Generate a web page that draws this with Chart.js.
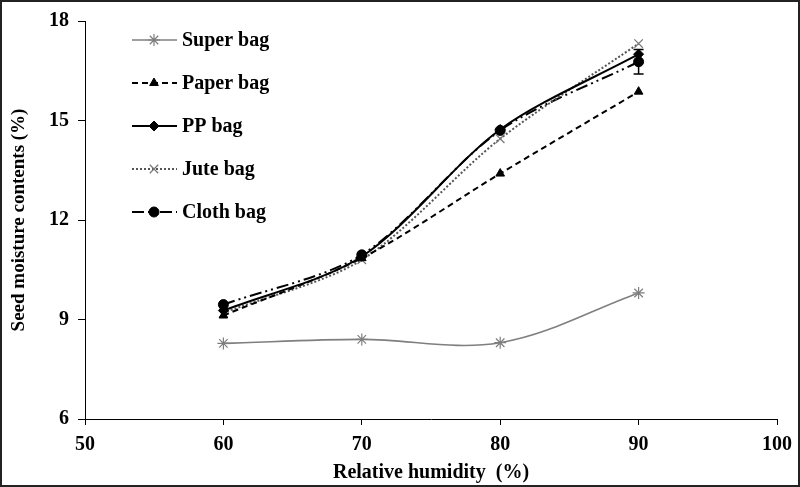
<!DOCTYPE html>
<html>
<head>
<meta charset="utf-8">
<script src="https://cdn.jsdelivr.net/npm/chart.js@4/dist/chart.umd.min.js"></script>
<style>
  html, body { margin: 0; padding: 0; background: #fff; }
  #wrap { width: 800px; height: 487px; position: relative; }
</style>
</head>
<body>
<div id="wrap"><canvas id="chart"></canvas></div>
<script>
// datos
const humidity = [60, 70, 80, 90];
const superBag = [8.28, 8.40, 8.30, 9.80];
const paperBag = [9.12, 10.85, 13.40, 15.87];
const ppBag = [9.27, 10.90, 14.73, 17.00];
const juteBag = [9.20, 10.80, 14.45, 17.32];
const clothBag = [9.45, 10.95, 14.70, 16.77];
const clothErr = [0, 0, 0, 0.37];

const xTicks = [50, 60, 70, 80, 90, 100];
const yTicks = [6, 9, 12, 15, 18];

const serif = '"Liberation Serif", "Times New Roman", serif';

function pts(values) {
    return humidity.map(function (h, i) { return { x: h, y: values[i] }; });
}

// fondo blanco y marco
const frame = {
    id: 'frame',
    beforeDraw: function (chart) {
        const c = chart.ctx;
        c.save();
        c.fillStyle = '#fff';
        c.fillRect(0, 0, chart.width, chart.height);
        c.restore();
    },
    afterDraw: function (chart) {
        const c = chart.ctx;
        c.save();
        c.strokeStyle = '#222';
        c.lineWidth = 2;
        c.strokeRect(1, 1, chart.width - 2, chart.height - 2);
        c.restore();
    }
};

// barra de error (solo Cloth bag)
const errorBars = {
    id: 'errorBars',
    afterDatasetsDraw: function (chart) {
        const ds = chart.data.datasets[4];
        const xs = chart.scales.x, ys = chart.scales.y;
        const c = chart.ctx;
        c.save();
        c.strokeStyle = '#000';
        c.lineWidth = 1.5;
        ds.errors.forEach(function (e, i) {
            if (!e) return;
            const px = xs.getPixelForValue(humidity[i]);
            const lo = ys.getPixelForValue(ds.values[i] - e);
            const hi = ys.getPixelForValue(ds.values[i] + e);
            c.beginPath();
            c.moveTo(px, lo); c.lineTo(px, hi);
            c.moveTo(px - 5, lo); c.lineTo(px + 5, lo);
            c.moveTo(px - 5, hi); c.lineTo(px + 5, hi);
            c.stroke();
        });
        c.restore();
    }
};

// leyenda dentro del area
const innerLegend = {
    id: 'innerLegend',
    afterDraw: function (chart) {
        const c = chart.ctx;
        const area = chart.chartArea;
        const x0 = area.left + 47;
        const y0 = area.top + 19;
        c.save();
        chart.data.datasets.forEach(function (ds, i) {
            const y = y0 + i * 43;
            c.strokeStyle = ds.borderColor;
            c.lineWidth = ds.borderWidth;
            c.setLineDash(ds.borderDash || []);
            c.beginPath();
            c.moveTo(x0, y);
            c.lineTo(x0 + 45, y);
            c.stroke();
            c.setLineDash([]);
            c.fillStyle = ds.pointBackgroundColor;
            c.strokeStyle = ds.pointBorderColor;
            c.lineWidth = ds.pointBorderWidth;
            Chart.helpers.drawPoint(c, {
                pointStyle: ds.pointStyle,
                radius: ds.pointRadius,
                borderWidth: ds.pointBorderWidth,
                rotation: 0
            }, x0 + 22, y);
            c.fillStyle = '#000';
            c.font = 'bold 20px ' + serif;
            c.textBaseline = 'middle';
            c.textAlign = 'left';
            c.fillText(ds.label, x0 + 50, y + 1);
        });
        c.restore();
    }
};

const ctx = document.getElementById('chart');

new Chart(ctx, {
    type: 'scatter',
    data: {
        datasets: [{
            label: 'Super bag',
            data: pts(superBag),
            showLine: true,
            tension: 0.35,
            borderColor: '#7f7f7f',
            borderWidth: 1.6,
            pointStyle: 'star',
            pointRadius: 6,
            pointBorderWidth: 1.2,
            pointBackgroundColor: '#7f7f7f',
            pointBorderColor: '#7f7f7f'
        }, {
            label: 'Paper bag',
            data: pts(paperBag),
            showLine: true,
            tension: 0.3,
            borderColor: '#000',
            borderWidth: 2,
            borderDash: [6, 4],
            pointStyle: 'triangle',
            pointRadius: 5,
            pointBorderWidth: 1,
            pointBackgroundColor: '#000',
            pointBorderColor: '#000'
        }, {
            label: 'PP bag',
            data: pts(ppBag),
            showLine: true,
            tension: 0.3,
            borderColor: '#000',
            borderWidth: 2,
            pointStyle: 'rectRot',
            pointRadius: 5,
            pointBorderWidth: 1,
            pointBackgroundColor: '#000',
            pointBorderColor: '#000'
        }, {
            label: 'Jute bag',
            data: pts(juteBag),
            showLine: true,
            tension: 0.3,
            borderColor: '#555',
            borderWidth: 2,
            borderDash: [2, 2],
            pointStyle: 'crossRot',
            pointRadius: 6,
            pointBorderWidth: 1.2,
            pointBackgroundColor: '#777',
            pointBorderColor: '#777'
        }, {
            label: 'Cloth bag',
            data: pts(clothBag),
            values: clothBag,
            errors: clothErr,
            showLine: true,
            tension: 0.3,
            borderColor: '#000',
            borderWidth: 2,
            borderDash: [12, 4, 2, 4, 2, 4],
            pointStyle: 'circle',
            pointRadius: 5,
            pointBorderWidth: 1,
            pointBackgroundColor: '#000',
            pointBorderColor: '#000'
        }]
    },
    options: {
        responsive: true,
        maintainAspectRatio: false,
        animation: false,
        layout: { padding: { left: 4, top: 19, right: 23, bottom: 2 } },
        plugins: {
            legend: { display: false },
            tooltip: { enabled: false }
        },
        scales: {
            x: {
                type: 'linear',
                min: 50,
                max: 100,
                afterBuildTicks: function (s) { s.ticks = xTicks.map(function (v) { return { value: v }; }); },
                afterFit: function (s) { s.height = 66; },
                ticks: { color: '#000', padding: 8, font: { family: serif, size: 20, weight: 'bold' } },
                grid: { drawOnChartArea: false, drawTicks: true, tickLength: 6, color: '#000' },
                border: { color: '#000', width: 1 },
                title: {
                    display: true,
                    text: 'Relative humidity  (%)',
                    color: '#000',
                    padding: { top: 2, bottom: 0 },
                    font: { family: serif, size: 20, weight: 'bold' }
                }
            },
            y: {
                min: 6,
                max: 18,
                afterBuildTicks: function (s) { s.ticks = yTicks.map(function (v) { return { value: v }; }); },
                afterFit: function (s) { s.width = 81; },
                ticks: { color: '#000', padding: 9, font: { family: serif, size: 20, weight: 'bold' } },
                grid: { drawOnChartArea: false, drawTicks: true, tickLength: 7, color: '#000' },
                border: { color: '#000', width: 1 },
                title: {
                    display: true,
                    text: 'Seed moisture contents (%)',
                    color: '#000',
                    padding: { top: 4, bottom: 2 },
                    font: { family: serif, size: 19, weight: 'bold' }
                }
            }
        }
    },
    plugins: [frame, errorBars, innerLegend]
});
</script>
</body>
</html>
